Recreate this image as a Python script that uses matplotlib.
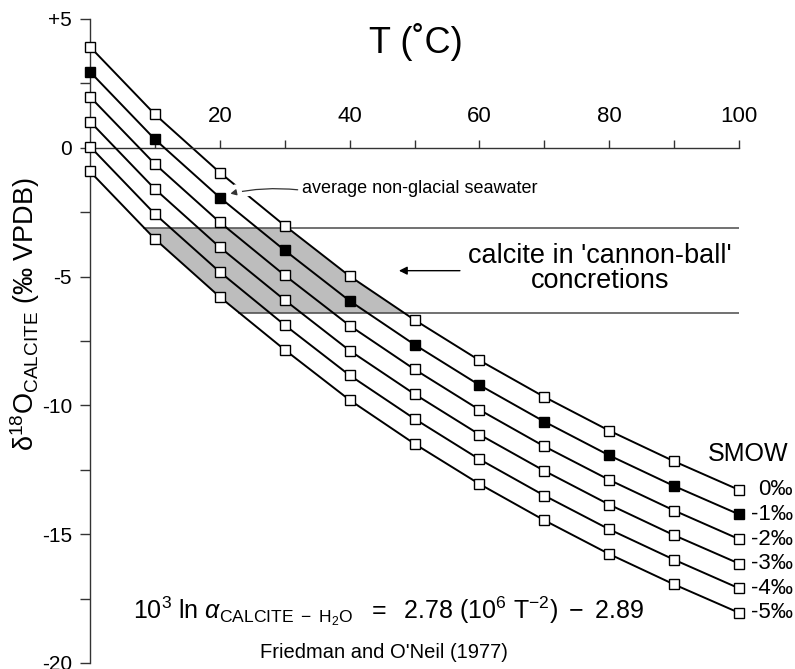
import numpy as np
import matplotlib
matplotlib.use("Agg")
import matplotlib.pyplot as plt
import matplotlib.patheffects as pe

plt.rcParams['font.family'] = ['Liberation Sans', 'DejaVu Sans']
plt.rcParams['mathtext.fontset'] = 'custom'
plt.rcParams['mathtext.rm'] = 'Liberation Sans'
plt.rcParams['mathtext.it'] = 'Liberation Sans:italic'
plt.rcParams['mathtext.bf'] = 'Liberation Sans:bold'

# ---- data ----
temps = [0, 10, 20, 30, 40, 50, 60, 70, 80, 90, 100]
smow_labels = ['0‰', '-1‰', '-2‰', '-3‰', '-4‰', '-5‰']
d_smow0 = [3.92, 1.30, -0.96, -3.02, -4.98, -6.68, -8.25, -9.67, -10.98, -12.17, -13.28]
d_smow1 = [2.95, 0.33, -1.93, -3.98, -5.94, -7.64, -9.21, -10.63, -11.94, -13.13, -14.23]
d_smow2 = [1.98, -0.63, -2.89, -4.95, -6.90, -8.60, -10.17, -11.59, -12.89, -14.08, -15.19]
d_smow3 = [1.02, -1.60, -3.86, -5.91, -7.87, -9.56, -11.13, -12.54, -13.85, -15.04, -16.14]
d_smow4 = [0.05, -2.57, -4.82, -6.88, -8.83, -10.52, -12.09, -13.50, -14.81, -15.99, -17.10]
d_smow5 = [-0.92, -3.54, -5.79, -7.84, -9.79, -11.49, -13.05, -14.46, -15.77, -16.95, -18.05]
all_series = [d_smow0, d_smow1, d_smow2, d_smow3, d_smow4, d_smow5]
filled_series = [False, True, False, False, False, False]

concretion_top = -3.1
concretion_bottom = -6.4

x_major = [20, 40, 60, 80, 100]
x_minor = [10, 30, 50, 70, 90]
y_major = [5, 0, -5, -10, -15, -20]
y_major_labels = ['+5', '0', '-5', '-10', '-15', '-20']
y_minor = [2.5, -2.5, -7.5, -12.5, -17.5]

# ---- figure ----
fig = plt.figure(figsize=(7.95, 6.69), dpi=100)
ax = fig.add_axes([90 / 795, 6 / 669, 649 / 795, 644 / 669])
ax.set_xlim(0, 100)
ax.set_ylim(-20, 5)

for s in ['right', 'bottom']:
    ax.spines[s].set_visible(False)
ax.spines['top'].set_position(('data', 0))
ax.spines['top'].set_linewidth(1.0)
ax.spines['top'].set_color('#333333')
ax.spines['left'].set_linewidth(1.0)
ax.spines['left'].set_color('#333333')
ax.xaxis.tick_top()
ax.set_xticks(x_major)
ax.set_xticks(x_minor, minor=True)
ax.set_yticks(y_major)
ax.set_yticklabels(y_major_labels)
ax.set_yticks(y_minor, minor=True)
ax.tick_params(axis='x', which='both', direction='out', length=6, width=1,
               pad=9, labelsize=16, color='#333333')
ax.tick_params(axis='y', which='both', direction='out', length=7, width=1,
               pad=6, labelsize=15, color='#333333')

# shaded concretion band
temps_arr = np.array(temps, dtype=float)
y_sh = np.linspace(concretion_bottom, concretion_top, 60)
x_left = np.interp(y_sh, np.array(d_smow5)[::-1], temps_arr[::-1])
x_right = np.interp(y_sh, np.array(d_smow0)[::-1], temps_arr[::-1])
ax.fill_betweenx(y_sh, x_left, x_right, color='#bdbdbd', lw=0, zorder=1)
ax.plot([x_left[-1], 100], [concretion_top, concretion_top], color='#4a4a4a', lw=1.1, zorder=1.5)
ax.plot([x_left[0], 100], [concretion_bottom, concretion_bottom], color='#4a4a4a', lw=1.1, zorder=1.5)

# lines
for i, (ser, filled, lab) in enumerate(zip(all_series, filled_series, smow_labels)):
    ax.plot(temps, ser, color='black', lw=1.4, zorder=2 if i == 0 else 3)
    ax.plot(temps, ser, ls='none', marker='s', ms=7.2,
            mfc='black' if filled else 'white', mec='black', mew=1.0,
            zorder=4, clip_on=False)
    ax.text(108.3, ser[-1], lab, ha='right', va='center', fontsize=16)

ax.text(107.6, -11.9, 'SMOW', ha='right', va='center', fontsize=18)

# annotation: average seawater
ax.annotate('', xy=(21.6, -1.78), xytext=(32.0, -1.63),
            arrowprops=dict(arrowstyle='-|>', color='#333333', lw=0.9,
                            mutation_scale=9, shrinkA=0, shrinkB=0,
                            connectionstyle='arc3,rad=0.08',
                            path_effects=[pe.withStroke(linewidth=8, foreground='white')]),
            zorder=2.5)
ax.text(32.6, -1.59, 'average non-glacial seawater', ha='left', va='center', fontsize=13)

# concretion label
ax.annotate('', xy=(47.6, -4.77), xytext=(57.0, -4.77),
            arrowprops=dict(arrowstyle='-|>', color='black', lw=1.0,
                            mutation_scale=12, shrinkA=0, shrinkB=0))
ax.text(78.6, -4.69, "calcite in 'cannon-ball'\nconcretions", ha='center', va='center',
        fontsize=19.5, linespacing=0.92)

# titles
ax.text(50.2, 4.1, 'T (˚C)', ha='center', va='center', fontsize=26)
fig.text(25 / 795, 1 - 314 / 669, r'δ$^{\mathregular{18}}$O$_{\mathregular{CALCITE}}$ (‰ VPDB)',
         rotation=90, ha='center', va='center', fontsize=19.5)

ax.text(6.6, -17.98,
        r'$\mathregular{10^3\ ln\ }\alpha_{\mathregular{CALCITE\ -\ H_2O}}\mathregular{\ \ =\ \ 2.78\ (10^6\ T^{-2})\ -\ 2.89}$',
        ha='left', va='center', fontsize=18)
ax.text(45.3, -19.6, "Friedman and O'Neil (1977)", ha='center', va='center', fontsize=14.5)

fig.savefig('out.png', dpi=100)
